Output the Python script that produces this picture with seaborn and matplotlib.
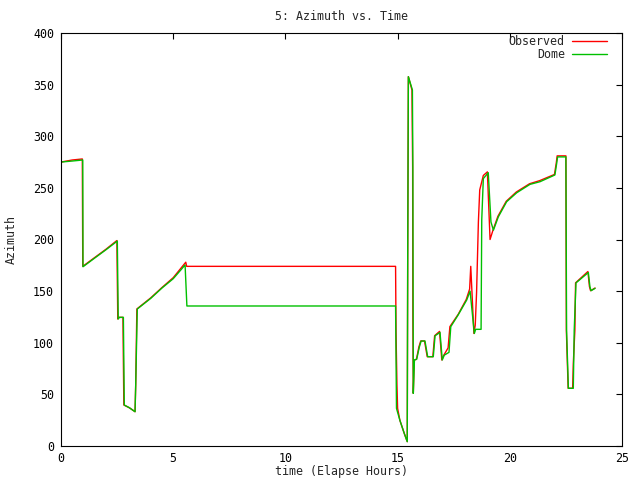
import matplotlib
matplotlib.use("Agg")
import matplotlib.pyplot as plt
import seaborn as sns
import pandas as pd

# ---- data ----
obs_t = [0.0, 0.5, 0.95, 0.97, 1.5, 2.0, 2.49, 2.53, 2.58, 2.76, 2.80, 3.05, 3.30, 3.33, 3.38,
         4.0, 4.5, 5.0, 5.56, 5.60, 14.91, 14.93, 14.97, 15.0, 15.10, 15.30, 15.43, 15.45, 15.48,
         15.64, 15.67, 15.68, 15.70, 15.74, 15.84, 15.95, 16.03, 16.20, 16.32, 16.57, 16.65, 16.87,
         16.97, 17.06, 17.25, 17.33, 17.7, 18.06, 18.21, 18.26, 18.40, 18.46, 18.52, 18.60, 18.66,
         18.82, 19.00, 19.12, 19.25, 19.47, 19.84, 20.29, 20.88, 21.33, 21.99, 22.07, 22.11, 22.50,
         22.52, 22.60, 22.80, 22.83, 22.90, 22.93, 23.48, 23.55, 23.60, 23.80]
obs_az = [275, 277, 278, 174, 182.5, 190.5, 199, 123, 124.6, 124.6, 39.7, 37, 33.2, 60, 132.7,
          143.5, 153.5, 163, 178, 174, 174, 110, 60, 36.5, 25, 12, 4.2, 180, 357.7,
          344.8, 270, 124, 51, 83.3, 84, 96, 101.7, 101.7, 86.5, 86.5, 106.8, 111,
          83.3, 88, 95, 115.6, 127.5, 142, 152, 174, 109, 117, 149, 217, 248,
          262, 265.5, 200, 209, 222.5, 237, 246, 254, 257, 263, 274, 281, 281,
          112, 55.9, 55.9, 80, 112, 158, 169, 154.3, 150.4, 153]

dome_t = [0.0, 0.5, 0.97, 0.98, 1.5, 2.0, 2.51, 2.55, 2.60, 2.78, 2.82, 3.05, 3.30, 3.33, 3.40,
          4.0, 4.5, 5.0, 5.53, 5.61, 14.91, 14.95, 15.10, 15.30, 15.43, 15.45, 15.48, 15.66, 15.68,
          15.70, 15.75, 15.85, 15.97, 16.05, 16.22, 16.34, 16.59, 16.67, 16.89, 16.99, 17.08, 17.29,
          17.37, 17.7, 18.08, 18.23, 18.42, 18.48, 18.72, 18.75, 18.82, 19.04, 19.16, 19.27, 19.49,
          19.86, 20.31, 20.90, 21.35, 22.01, 22.09, 22.13, 22.50, 22.53, 22.61, 22.83, 22.87, 22.95,
          23.50, 23.57, 23.62, 23.80]
dome_az = [275, 276, 277, 173.6, 182, 190, 198.5, 123, 124.6, 124.6, 39.7, 37, 33.2, 60, 132.7,
           143, 153, 162, 175.3, 135.6, 135.6, 36.5, 25, 12, 4.2, 180, 357.7, 344.8, 270,
           51, 83.3, 84, 96, 101.7, 101.7, 86.5, 86.5, 106.8, 110, 83.3, 88, 90.7,
           115.6, 127, 141.4, 150, 109, 113, 113, 219, 259, 264.7, 217, 209, 222,
           236.6, 245.3, 253.4, 256, 262.5, 273.8, 280, 280, 112, 55.9, 55.9, 112, 158,
           168, 154.3, 150.4, 152.7]

x_ticks = [0, 5, 10, 15, 20, 25]
y_ticks = [0, 50, 100, 150, 200, 250, 300, 350, 400]

sns.set_style("white")
plt.rcParams['font.family'] = ['DejaVu Sans Mono']
fs = 8.4

fig = plt.figure(figsize=(6.4, 4.8), dpi=100)
ax = fig.add_axes([61/640, 1 - 446/480, (622-61)/640, (446-33)/480])

df_obs = pd.DataFrame({"t": obs_t, "az": obs_az})
df_dome = pd.DataFrame({"t": dome_t, "az": dome_az})
sns.lineplot(data=df_obs, x="t", y="az", ax=ax, sort=False, estimator=None,
             color="#ff0000", lw=1.0, label="Observed")
sns.lineplot(data=df_dome, x="t", y="az", ax=ax, sort=False, estimator=None,
             color="#00c000", lw=1.0, label="Dome")

ax.set_xlim(0, 25)
ax.set_ylim(0, 400)
ax.set_xticks(x_ticks)
ax.set_yticks(y_ticks)
ax.tick_params(direction="in", length=4, width=0.8, top=True, right=True,
               labelsize=fs, colors="black", pad=5)
ax.tick_params(axis="x", pad=4)
for s in ax.spines.values():
    s.set_color("black")
    s.set_linewidth(0.8)

ax.set_title("5: Azimuth vs. Time", fontsize=fs, pad=9)
ax.set_xlabel("time (Elapse Hours)", fontsize=fs, labelpad=0)
ax.set_ylabel("Azimuth", fontsize=fs, labelpad=11)

leg = ax.legend(loc="upper right", bbox_to_anchor=(0.973, 0.995), frameon=False,
                markerfirst=False, fontsize=fs, handlelength=3.0, handletextpad=0.6,
                labelspacing=0.0, borderaxespad=0, borderpad=0)

fig.savefig("out.png", dpi=100)
